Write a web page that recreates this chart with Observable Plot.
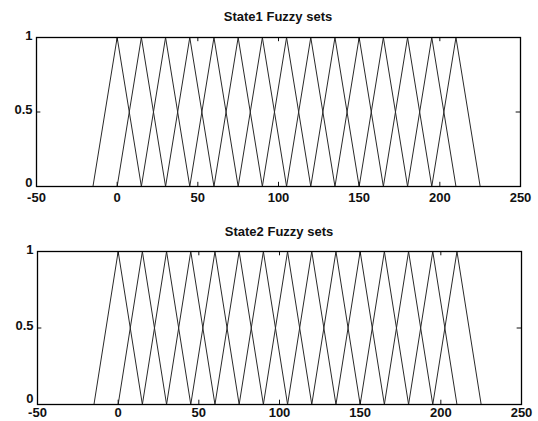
<!DOCTYPE html>
<html>
<head>
<meta charset="utf-8">
<script src="https://cdn.jsdelivr.net/npm/d3@7"></script>
<script src="https://cdn.jsdelivr.net/npm/@observablehq/plot@0.6"></script>
<style>
  html, body { margin: 0; padding: 0; background: #fff; }
  #wrap { position: relative; width: 538px; height: 421px; background: #fff; overflow: hidden; }
  .ttl { position: absolute; font-family: "Liberation Sans", Arial, sans-serif; font-weight: bold; font-size: 13px; line-height: 16px; text-align: center; color: #111; }
  .pl { position: absolute; left: 0; }
</style>
</head>
<body>
<div id="wrap"></div>
<script>
// ---- data ----
const xTicks = [-50, 0, 50, 100, 150, 200, 250];
const yTicks = [0, 0.5, 1];

// State1 triangular fuzzy sets: left foot, peak, right foot
const state1Left  = [-15, 0, 15, 30, 45, 60, 75, 90, 105, 120, 135, 150, 165, 180, 195];
const state1Peak  = [0, 15, 30, 45, 60, 75, 90, 105, 120, 135, 150, 165, 180, 195, 210];
const state1Right = [15, 30, 45, 60, 75, 90, 105, 120, 135, 150, 165, 180, 195, 210, 225];

// State2 triangular fuzzy sets: left foot, peak, right foot
const state2Left  = [-15, 0, 15, 30, 45, 60, 75, 90, 105, 120, 135, 150, 165, 180, 195];
const state2Peak  = [0, 15, 30, 45, 60, 75, 90, 105, 120, 135, 150, 165, 180, 195, 210];
const state2Right = [15, 30, 45, 60, 75, 90, 105, 120, 135, 150, 165, 180, 195, 210, 225];

const titles = ["State1 Fuzzy sets", "State2 Fuzzy sets"];

function triPoints(L, P, R) {
  const pts = [];
  L.forEach((l, i) => {
    pts.push({set: i, x: l, y: 0});
    pts.push({set: i, x: P[i], y: 1});
    pts.push({set: i, x: R[i], y: 0});
  });
  return pts;
}

function makePlot(L, P, R, opts) {
  const pts = triPoints(L, P, R);
  const xd = [xTicks[0], xTicks[xTicks.length - 1]];
  const tx = (xd[1] - xd[0]) * 0.009;
  const ty = 0.028;
  return Plot.plot({
    width: 538,
    height: opts.height,
    marginLeft: opts.ml,
    marginRight: opts.mr,
    marginTop: opts.mt,
    marginBottom: opts.mb,
    x: {domain: xd, label: null},
    y: {domain: [0, 1], label: null},
    style: {fontFamily: "Liberation Sans, Arial, sans-serif", fontSize: "13px", fontWeight: "bold", color: "#111", background: "transparent", overflow: "visible"},
    marks: [
      Plot.line(pts, {x: "x", y: "y", z: "set", stroke: "#2a2a2a", strokeWidth: 1}),
      // inward tick marks (MATLAB style)
      Plot.ruleX(xTicks.slice(1, -1), {x: d => d, y1: 0, y2: ty, stroke: "#111", strokeWidth: 1}),
      Plot.ruleX(xTicks.slice(1, -1), {x: d => d, y1: 1 - ty, y2: 1, stroke: "#111", strokeWidth: 1}),
      Plot.ruleY([0.5], {y: d => d, x1: xd[0], x2: xd[0] + tx, stroke: "#111", strokeWidth: 1}),
      Plot.ruleY([0.5], {y: d => d, x1: xd[1] - tx, x2: xd[1], stroke: "#111", strokeWidth: 1}),
      Plot.axisX({ticks: xTicks, tickSize: 0, tickPadding: opts.xpad, tickFormat: d => String(d), label: null}),
      Plot.axisY({ticks: yTicks.slice(1), tickSize: 0, tickPadding: 4, tickFormat: d => String(d), label: null, dy: -2}),
      Plot.axisY({ticks: yTicks.slice(0, 1), tickSize: 0, tickPadding: 4, tickFormat: d => String(d), label: null, dy: opts.y0dy}),
      Plot.frame({stroke: "#000", strokeWidth: 1.3})
    ]
  });
}

const wrap = document.getElementById("wrap");

const p1 = makePlot(state1Left, state1Peak, state1Right, {height: 210, ml: 36, mr: 18, mt: 37, mb: 24, xpad: 6, y0dy: -4});
p1.classList.add("pl"); p1.style.top = "0px";
wrap.appendChild(p1);

const p2 = makePlot(state2Left, state2Peak, state2Right, {height: 211, ml: 37, mr: 17, mt: 41, mb: 17, xpad: 3, y0dy: -6});
p2.classList.add("pl"); p2.style.top = "210px";
wrap.appendChild(p2);

const t1 = document.createElement("div");
t1.className = "ttl"; t1.textContent = titles[0];
t1.style.left = "36px"; t1.style.width = "484px"; t1.style.top = "9px";
wrap.appendChild(t1);

const t2 = document.createElement("div");
t2.className = "ttl"; t2.textContent = titles[1];
t2.style.left = "37px"; t2.style.width = "484px"; t2.style.top = "224px";
wrap.appendChild(t2);
</script>
</body>
</html>
